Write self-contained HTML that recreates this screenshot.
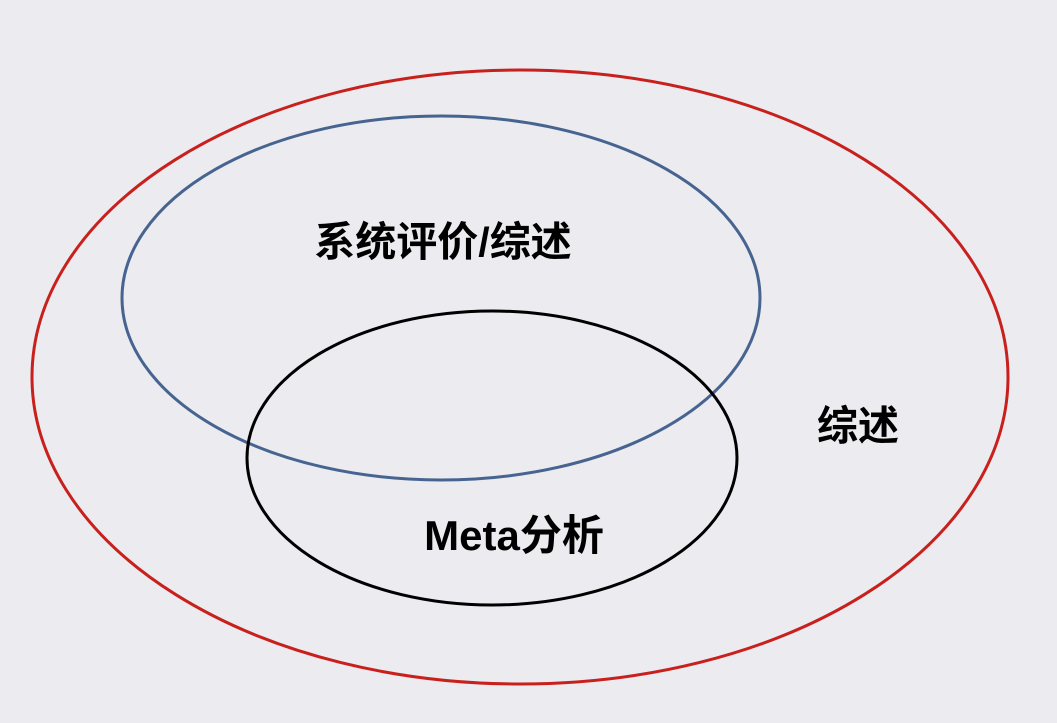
<!DOCTYPE html>
<html><head><meta charset="utf-8"><style>
html,body{margin:0;padding:0;background:#ebebf0;}
svg{display:block;}
text{font-family:"Liberation Sans","Noto Sans CJK SC",sans-serif;font-weight:bold;fill:#000;}
</style></head><body>
<svg width="1057" height="723" viewBox="0 0 1057 723" xmlns="http://www.w3.org/2000/svg">
<rect width="1057" height="723" fill="#ebebf0"/>
<ellipse cx="520" cy="377" rx="488" ry="307" fill="none" stroke="#c8201c" stroke-width="3"/>
<ellipse cx="441" cy="298" rx="319" ry="182" fill="none" stroke="#46648f" stroke-width="3"/>
<ellipse cx="492" cy="458" rx="245" ry="147" fill="none" stroke="#000" stroke-width="3"/>
<text x="443" y="256" font-size="41" text-anchor="middle">系统评价/综述</text>
<text x="858" y="440" font-size="41" text-anchor="middle">综述</text>
<text x="514" y="550" font-size="42" text-anchor="middle">Meta分析</text>
</svg>
</body></html>
